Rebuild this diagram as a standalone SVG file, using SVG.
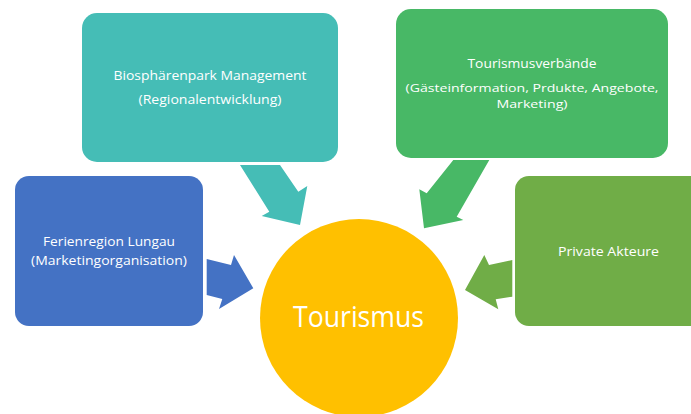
<svg xmlns="http://www.w3.org/2000/svg" width="691" height="414" viewBox="0 0 691 414">
  <style>
    .lbl { font-family: "Open Sans", "Noto Sans", "Liberation Sans", sans-serif; font-size: 13px; fill: #ffffff; text-anchor: middle; }
    .sm { font-size: 11.5px; }
    .big { font-family: "Open Sans", "Noto Sans", "Liberation Sans", sans-serif; font-size: 30px; fill: #ffffff; text-anchor: middle; }
  </style>
  <rect width="691" height="414" fill="#ffffff"/>

  <!-- block arrows pointing at the centre -->
  <g id="connectors">
    <polygon fill="#45BDB6" points="240,165 280,165 298.3,191.7 307.3,186 300,225 261.7,216 269.3,211.7"/>
    <polygon fill="#48B866" points="489.3,160 453.3,160 426.7,193.3 419.3,189.3 424,228.3 463.3,220 456.7,216.7"/>
    <polygon fill="#4472C4" points="206.7,259 231,265 234,255 253.3,288.3 219,309 222.3,299 206.7,295"/>
    <polygon fill="#70AD47" points="512.3,260 489,265 484.3,255 465,290 498.3,309.3 495.7,299.3 512.3,296.7"/>
  </g>

  <g id="biosphaerenpark">
    <rect x="82" y="13" width="256" height="149" rx="15" fill="#45BDB6"/>
    <text class="lbl" x="210" y="80" textLength="193" lengthAdjust="spacingAndGlyphs">Biosphärenpark Management</text>
    <text class="lbl" x="210" y="104" textLength="143" lengthAdjust="spacingAndGlyphs">(Regionalentwicklung)</text>
  </g>

  <g id="tourismusverbaende">
    <rect x="396" y="9" width="272" height="149" rx="15" fill="#48B866"/>
    <text class="lbl" x="532" y="68" textLength="129" lengthAdjust="spacingAndGlyphs">Tourismusverbände</text>
    <text class="lbl sm" x="532" y="91.5" textLength="253" lengthAdjust="spacingAndGlyphs">(Gästeinformation, Prdukte, Angebote,</text>
    <text class="lbl sm" x="532" y="107.5" textLength="71" lengthAdjust="spacingAndGlyphs">Marketing)</text>
  </g>

  <g id="ferienregion">
    <rect x="15" y="176" width="188" height="150" rx="14" fill="#4472C4"/>
    <text class="lbl" x="109" y="246" textLength="132" lengthAdjust="spacingAndGlyphs">Ferienregion Lungau</text>
    <text class="lbl" x="109" y="265" textLength="156" lengthAdjust="spacingAndGlyphs">(Marketingorganisation)</text>
  </g>

  <g id="private">
    <rect x="515" y="176" width="200" height="150" rx="14" fill="#70AD47"/>
    <text class="lbl" x="608.5" y="256" textLength="101" lengthAdjust="spacingAndGlyphs">Private Akteure</text>
  </g>

  <g id="tourismus">
    <circle cx="359" cy="318" r="99" fill="#FFC000"/>
    <text class="big" x="358.5" y="327" textLength="131" lengthAdjust="spacingAndGlyphs">Tourismus</text>
  </g>
</svg>
